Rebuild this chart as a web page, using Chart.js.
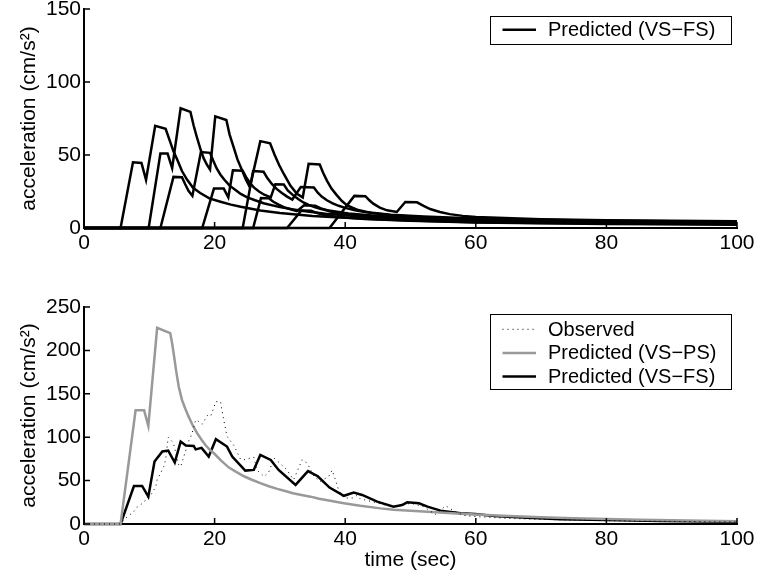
<!DOCTYPE html>
<html>
<head>
<meta charset="utf-8">
<script src="https://cdn.jsdelivr.net/npm/chart.js@4.4.1/dist/chart.umd.min.js"></script>
<style>
  body { margin: 0; background: #fff; }
  #wrap { position: relative; width: 757px; height: 581px; }
  canvas { position: absolute; left: 0; }
</style>
</head>
<body>
<div id="wrap">
  <canvas id="topChart" width="757" height="290" style="top:0"></canvas>
  <canvas id="bottomChart" width="757" height="291" style="top:290px"></canvas>
</div>
<script>
// ticks
const xTicks = [0, 20, 40, 60, 80, 100];
const yTicksTop = [0, 50, 100, 150];
const yTicksBottom = [0, 50, 100, 150, 200, 250];

// top panel: VS-FS contributions, [time (s), acceleration (cm/s2)]
const fs1 = [[0,0],[5.6,0],[7.5,45],[8.8,44.5],[9.5,33],[10.9,70],[12.5,68],[13.2,59],[13.7,52.5],[14.3,46.5],[15,39],[15.8,33],[16.7,27.5],[17.8,24],[19.2,20.3],[20.9,18],[22.5,16],[24,14.5],[27,12],[30,10.3],[35,8.3],[40,7],[45,6],[50,5.2],[60,4],[70,3.4],[80,3],[90,2.7],[100,2.5]];
const fs2 = [[0,0],[9.9,0],[11.7,51],[12.8,51],[13.5,41],[14.8,82],[16.3,79.5],[16.8,70],[17.3,62],[17.8,54.5],[18.3,48],[18.8,43.5],[19.3,40],[20.1,76.5],[21.8,74],[22.3,64],[22.9,55.5],[23.5,47],[24.2,39.5],[24.8,33],[25.4,28],[27,59.5],[28.5,58],[29.2,50],[29.9,43],[30.6,37],[31.6,29],[32.6,23.5],[33.5,21],[34.4,44],[36.1,43.5],[36.6,38],[37.2,32.5],[37.9,27],[38.7,22.5],[39.5,18.5],[40.3,15.5],[41.2,13.7],[42,12.3],[44,10.3],[47,8.8],[52,7.3],[60,6],[70,5.1],[80,4.5],[90,4.2],[100,4]];
const fs3 = [[0,0],[11.7,0],[13.7,35],[15,34.8],[15.5,30],[16,25.5],[16.6,22],[17.9,52],[19.3,51.5],[19.8,46],[20.3,41],[20.9,36.5],[21.5,33],[22.3,29],[23.2,26],[24,23.3],[25,21],[26.2,19],[27.5,17],[30,14.3],[33,12],[37,9.8],[42,8],[47,6.8],[52,6],[60,5],[70,4.3],[80,3.8],[90,3.5],[100,3.2]];
const fs4 = [[0,0],[18.1,0],[19.9,27],[21.4,27],[22.1,21],[22.8,39.5],[24.3,39.2],[24.8,35],[25.4,31],[26,27.8],[26.8,25],[27.6,22.8],[28.6,21],[29.3,30],[30.6,29.8],[31.2,25.8],[32,22.5],[32.8,19.8],[33.6,17.5],[34.4,15.8],[35.3,14.3],[36.3,13],[37.5,12],[40.5,10],[45,8.2],[50,7],[60,5.5],[70,4.7],[80,4.2],[90,3.9],[100,3.6]];
const fs5 = [[0,0],[24.3,0],[25.9,39],[27.5,38.5],[28.1,34],[28.8,30],[29.5,26.8],[30.3,24],[31.1,21.5],[31.9,19.5],[33.2,28],[35.2,27.7],[35.8,24.2],[36.4,21.5],[37.2,19],[38,17],[39,15.2],[40,13.8],[41.5,12.2],[43,11],[47,9],[52,7.8],[60,6.5],[70,5.6],[80,5],[90,4.7],[100,4.5]];
const fs6 = [[0,0],[25.9,0],[27.1,20.5],[28.3,20.3],[29,18],[29.8,16],[30.6,14.3],[31.5,13],[32.6,11.5],[33.7,15.5],[35.4,15.3],[36.2,13.6],[37,12.3],[38,11],[39,10],[41,8.8],[43,8],[48,6.5],[54,5.3],[60,4.5],[70,3.9],[80,3.4],[90,3.1],[100,2.8]];
const fs7 = [[0,0],[31.1,0],[33.3,12],[34.8,11.8],[35.6,10.4],[36.5,9.3],[37.7,8.3],[39,7.5],[41,6.8],[43,6.2],[50,5],[60,3.8],[70,3.2],[80,2.8],[90,2.5],[100,2.2]];
const fs8 = [[0,0],[37.6,0],[41.4,22],[43.1,21.8],[43.7,19],[44.3,16.7],[45.3,14],[46.4,12.1],[47.9,11],[49.2,17.8],[51,17.6],[52,15.2],[53,13],[54.5,11],[56,9.5],[58,8.3],[60,7.5],[70,6],[80,5.3],[90,4.9],[100,4.6]];

// bottom panel
const observed = [[0,0],[5.6,0],[6.4,7],[7.6,14],[8.2,20],[9.2,25],[9.7,31],[10.2,33],[11,43],[11.2,51],[11.7,58],[12.2,66],[12.5,74],[12.9,100],[13.5,95],[13.8,90],[14.5,68],[14.8,66],[15.3,78],[16.1,97],[16.5,103],[17.1,120],[17.4,119],[18.1,115],[18.9,125],[19.4,124],[20.2,141],[20.9,141],[21.4,120],[21.9,101],[23,90],[24,74],[24.5,74],[25.5,76],[26,77],[26.5,62],[27.6,54.6],[28.3,60],[29.1,76],[30,70],[31.1,62],[32.1,51],[33.4,74],[34.2,70],[35.2,55],[36.2,49],[37.5,55],[38,62],[38.5,51],[39,39],[39.8,30],[41.3,30],[41.8,33],[42.3,29],[44,26],[46,22],[48,20],[50,24],[52,20],[53.8,11],[55.4,21],[56,18],[58,10],[60,8.5],[65,6.5],[70,5.3],[75,4.5],[80,3.8],[85,3.3],[90,3],[95,2.7],[100,2.5]];
const vsps = [[0,0],[5.6,0],[7.9,131],[9.2,131],[9.85,113],[11.2,226],[13.2,220],[13.5,208],[13.8,193],[14.1,177],[14.5,158.5],[15,143],[15.5,133],[16,124],[16.7,113],[17.3,105],[18,97],[18.6,91],[19.2,86],[19.9,81.5],[21,73],[22.2,65],[23.3,60],[24.5,55],[25.7,51],[27,47],[28.3,43.5],[29.6,40.5],[30.8,38],[32,35.5],[33.3,33.5],[34.7,31.5],[36,29.2],[37.5,27],[39.8,24],[42.3,21],[45.4,18],[47.4,16.5],[50,15.3],[52.6,14.2],[57.7,11.8],[60,11],[65,9.2],[70,7.8],[75,6.7],[80,5.8],[85,5],[90,4.3],[95,3.7],[100,3.2]];
const vsfs = [[0,0],[5.6,0],[7.65,43.8],[8.9,43.8],[9.85,31.5],[10.8,72],[12,83.5],[12.9,84.6],[13.9,70.8],[14.8,95],[15.6,90.4],[16.8,90],[17.1,86],[18,87.7],[19.1,77.7],[20.2,97.7],[21.9,89.2],[22.7,77.7],[24.7,61.5],[26,62.3],[27,79.6],[28.6,73.8],[29.8,62.3],[32.4,45],[34.3,61],[35.8,55],[37.6,42],[39.8,32.5],[41.3,36.2],[42.6,33.5],[44.9,25.8],[47.4,20],[48.7,21.9],[49.5,25],[51.3,23.8],[52.6,20],[54.6,15.4],[57.7,12.3],[59.9,11.5],[62.8,9.2],[67.9,7.3],[73,5.4],[80,4.6],[88.3,3.5],[100,2.7]];

const FONT = "'Liberation Sans', Arial, sans-serif";
Chart.defaults.font.family = FONT;
Chart.defaults.color = '#000';

function pts(arr) {
  return arr.map(p => ({ x: p[0], y: p[1] }));
}

function line(data, label, color, width, dash) {
  return {
    label: label,
    data: pts(data),
    borderColor: color,
    borderWidth: width,
    borderDash: dash || [],
    pointRadius: 0,
    tension: 0,
    fill: false,
    clip: false
  };
}

// matlab style ticks pointing into the plot
const inTicks = {
  id: 'inTicks',
  afterDatasetsDraw(chart) {
    const ctx = chart.ctx, a = chart.chartArea;
    const sx = chart.scales.x, sy = chart.scales.y;
    ctx.save();
    ctx.strokeStyle = '#000';
    ctx.lineWidth = 1.5;
    ctx.beginPath();
    sx.ticks.forEach(t => {
      const px = sx.getPixelForValue(t.value);
      ctx.moveTo(px, a.bottom);
      ctx.lineTo(px, a.bottom - 6);
    });
    sy.ticks.forEach(t => {
      const py = sy.getPixelForValue(t.value);
      ctx.moveTo(a.left, py);
      ctx.lineTo(a.left + 6, py);
    });
    ctx.stroke();
    ctx.restore();
  }
};

// boxed legend in the upper right corner
const boxLegend = {
  id: 'boxLegend',
  afterDraw(chart, args, o) {
    const ctx = chart.ctx, a = chart.chartArea;
    const items = chart.data.datasets.filter(d => d.label);
    const x = Math.round(a.right - o.right - o.width);
    const y = Math.round(a.top + o.top);
    const h = Math.round(o.padTop + o.padBottom + items.length * o.rowH);
    ctx.save();
    ctx.fillStyle = '#fff';
    ctx.fillRect(x, y, o.width, h);
    ctx.strokeStyle = '#000';
    ctx.lineWidth = 1;
    ctx.strokeRect(x + 0.5, y + 0.5, o.width, h);
    ctx.font = '20px ' + FONT;
    ctx.textBaseline = 'middle';
    items.forEach((d, i) => {
      const cy = y + o.padTop + o.rowH * (i + 0.5);
      ctx.beginPath();
      ctx.setLineDash(d.borderDash || []);
      ctx.strokeStyle = d.borderColor;
      ctx.lineWidth = d.borderWidth;
      ctx.moveTo(x + 12.5, cy);
      ctx.lineTo(x + 46, cy);
      ctx.stroke();
      ctx.setLineDash([]);
      ctx.fillStyle = '#000';
      ctx.fillText(d.label, x + 58, cy + 1);
    });
    ctx.restore();
  }
};

function makeChart(id, datasets, yMax, yTicks, xPad, xHeight, top, legendOpts, xTitle) {
  return new Chart(document.getElementById(id), {
    type: 'line',
    data: { datasets: datasets },
    plugins: [inTicks, boxLegend],
    options: {
      responsive: false,
      animation: false,
      layout: { padding: { left: 0, right: 20, top: top, bottom: 0 } },
      plugins: {
        legend: { display: false },
        tooltip: { enabled: false },
        boxLegend: legendOpts
      },
      scales: {
        x: {
          type: 'linear', min: 0, max: 100,
          afterBuildTicks: s => { s.ticks = xTicks.map(v => ({ value: v })); },
          ticks: { padding: xPad, font: { size: 21 }, color: '#000', maxRotation: 0 },
          grid: { drawOnChartArea: false, drawTicks: false },
          border: { display: true, color: '#000', width: 2 },
          title: { display: !!xTitle, text: xTitle || '', font: { size: 21 }, color: '#000', padding: { top: 0, bottom: 8 } },
          afterFit: s => { s.height = xHeight; s.paddingLeft = 0; s.paddingRight = 0; }
        },
        y: {
          type: 'linear', min: 0, max: yMax,
          afterBuildTicks: s => { s.ticks = yTicks.map(v => ({ value: v })); },
          ticks: { padding: 3, font: { size: 21 }, color: '#000' },
          grid: { drawOnChartArea: false, drawTicks: false },
          border: { display: true, color: '#000', width: 2 },
          title: { display: true, text: 'acceleration (cm/s²)', font: { size: 21 }, color: '#000', padding: { top: 17, bottom: 0 } },
          afterFit: s => { s.width = 84; s.paddingTop = 0; s.paddingBottom = 0; }
        }
      }
    }
  });
}

const topSets = [fs1, fs2, fs3, fs4, fs5, fs6, fs7, fs8].map((d, i) =>
  line(d, i === 0 ? 'Predicted (VS\u2212FS)' : '', '#000', 2.5));

const bottomSets = [
  line(observed, 'Observed', '#000', 1, [1, 4]),
  line(vsps, 'Predicted (VS\u2212PS)', '#999999', 2.5),
  line(vsfs, 'Predicted (VS\u2212FS)', '#000', 2.5)
];

makeChart('topChart', topSets, 150, yTicksTop, 3, 62, 9,
  { width: 241, right: 6, top: 7, padTop: 2, padBottom: 2, rowH: 23.5 });
makeChart('bottomChart', bottomSets, 250, yTicksBottom, 3, 57, 17,
  { width: 241, right: 6, top: 7, padTop: 3.5, padBottom: 1, rowH: 23.6 }, 'time (sec)');
</script>
</body>
</html>
